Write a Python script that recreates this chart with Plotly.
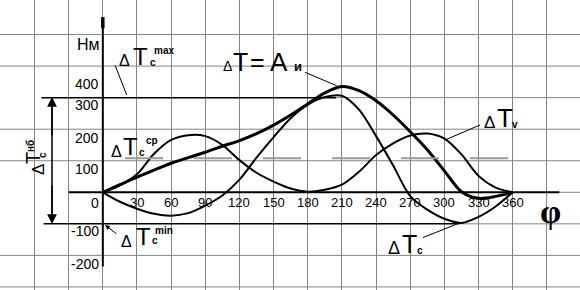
import plotly.graph_objects as go

# ---------------- data ----------------
phi = [0, 15, 30, 45, 60, 75, 90, 105, 120, 135, 150, 165, 180,
       195, 210, 225, 240, 255, 270, 285, 300, 315, 330, 345, 360]
dT = [0, 24, 48, 70, 92, 110, 127, 146, 164, 186, 213, 245, 280,
      315, 335, 322, 290, 245, 192, 135, 68, 2, -19, -13, 0]
dTv = [0, 22, 57, 122, 166, 181, 178, 150, 102, 62, 34, 12, 2,
       8, 24, 65, 118, 155, 180, 186, 170, 120, 52, 15, 0]
dTc = [0, -30, -52, -68, -74, -66, -42, -10, 40, 110, 175, 235, 278,
       302, 306, 262, 178, 85, -12, -55, -84, -97, -78, -45, 0]
tc_avg = 108
tc_max = 300
tc_min = -100
x_ticks = [30, 60, 90, 120, 150, 180, 210, 240, 270, 300, 330, 360]
y_tick_text = ["400", "300", "200", "100", "0", "-100", "-200"]
y_grid = [500, 400, 200, 100, -200, -300]

# ---------------- layout helpers ----------------
W, H = 580, 290
X_RANGE = [-90.3, 419.1]
Y_RANGE = [-309.7, 609.5]
FONT = "Liberation Sans, Arial, sans-serif"


def PX(x):
    return x / W


def PY(y):
    return 1 - y / H


fig = go.Figure()

fig.add_trace(go.Scatter(x=phi, y=dTv, mode="lines",
                         line=dict(color="black", width=2, shape="spline", smoothing=0.9)))
fig.add_trace(go.Scatter(x=phi, y=dTc, mode="lines",
                         line=dict(color="black", width=2, shape="spline", smoothing=0.9)))
fig.add_trace(go.Scatter(x=phi, y=dT, mode="lines",
                         line=dict(color="black", width=3, shape="spline", smoothing=0.9)))
fig.add_trace(go.Scatter(x=[19.5, 357.7], y=[tc_avg, tc_avg], mode="lines",
                         line=dict(color="#9a9a9a", width=2, dash="38px,31px")))

shapes = []
GRID = dict(color="#858585", width=1)
for v in y_grid:
    shapes.append(dict(type="line", xref="paper", yref="y", x0=0, x1=1, y0=v, y1=v,
                       line=GRID, layer="below"))
shapes.append(dict(type="line", xref="x", yref="y", x0=205, x1=X_RANGE[1], y0=tc_max, y1=tc_max,
                   line=GRID, layer="below"))
shapes.append(dict(type="line", xref="x", yref="y", x0=313, x1=X_RANGE[1], y0=tc_min, y1=tc_min,
                   line=GRID, layer="below"))
shapes.append(dict(type="line", xref="x", yref="y", x0=401, x1=X_RANGE[1], y0=0, y1=0,
                   line=GRID, layer="below"))
BL = dict(color="black", width=1.5)
shapes.append(dict(type="line", xref="x", yref="y", x0=-54, x1=205, y0=tc_max, y1=tc_max, line=BL))
shapes.append(dict(type="line", xref="x", yref="y", x0=-52, x1=313, y0=tc_min, y1=tc_min, line=BL))
shapes.append(dict(type="line", xref="x", yref="y", x0=-30, x1=401, y0=0, y1=0,
                   line=dict(color="black", width=2)))
shapes.append(dict(type="line", xref="x", yref="y", x0=0, x1=0, y0=-235, y1=555,
                   line=dict(color="black", width=2)))
shapes.append(dict(type="line", xref="x", yref="y", x0=0, x1=0, y0=520, y1=555,
                   line=dict(color="black", width=3.5)))
LL = dict(color="black", width=1)
for (x0, y0, x1, y1) in [(115, 65, 126.7, 95), (305, 72.3, 336.7, 85.7),
                         (480, 125, 445, 140), (423, 237.5, 457, 224)]:
    shapes.append(dict(type="line", xref="paper", yref="paper",
                       x0=PX(x0), y0=PY(y0), x1=PX(x1), y1=PY(y1), line=LL))
shapes.append(dict(type="line", xref="paper", yref="paper", x0=PX(52), x1=PX(52),
                   y0=PY(100), y1=PY(221), line=dict(color="black", width=1.5)))

ann = []
for t in x_ticks:
    ann.append(dict(x=t, y=-33, xref="x", yref="y", text=str(t),
                    showarrow=False, font=dict(family=FONT, size=13, color="black"),
                    xanchor="center", yanchor="middle"))
y_lab_px = [84, 105, 137.5, 169, 202.5, 231, 264]
for txt, ypx in zip(y_tick_text, y_lab_px):
    ann.append(dict(x=PX(100.5), y=PY(ypx), xref="paper", yref="paper", text=txt,
                    showarrow=False, font=dict(family=FONT, size=14, color="black"),
                    xanchor="right", yanchor="middle"))
ann.append(dict(x=PX(88), y=PY(45), xref="paper", yref="paper", text="Нм", showarrow=False,
                font=dict(family=FONT, size=16, color="black"), xanchor="center", yanchor="middle"))
ann.append(dict(x=PX(550), y=PY(211), xref="paper", yref="paper", text="<b>φ</b>", showarrow=False,
                font=dict(family="Liberation Serif, serif", size=34, color="black"),
                xanchor="center", yanchor="middle"))

pieces = [
    # ΔTc max
    (124.5, 61, "Δ", 16, False, 0), (140, 56.5, "T", 24, False, 0),
    (152.5, 62.5, "c", 10, True, 0), (164, 50.5, "max", 10, True, 0),
    # ΔTc min
    (126, 241, "Δ", 16, False, 0), (143.5, 236.5, "T", 24, False, 0),
    (154.5, 240.5, "c", 10, True, 0), (163.5, 230.5, "min", 10, True, 0),
    # ΔTc cp
    (116, 151, "Δ", 16, False, 0), (130.5, 146.5, "T", 24, False, 0),
    (141.5, 152.5, "c", 10, True, 0), (152, 140.5, "cp", 10, True, 0),
    # ΔT = Aи
    (227, 66.5, "Δ", 14, False, 0), (240.5, 62.5, "T", 25, False, 0),
    (257, 62.5, "=", 25, False, 0), (279, 62.5, "A", 26, False, 0),
    (298, 66.5, "и", 13, True, 0),
    # ΔTv
    (489, 122.5, "Δ", 17, False, 0), (505, 117.5, "T", 26, False, 0),
    (514.5, 124.5, "v", 10, True, 0),
    # ΔTc (bottom)
    (393.5, 248, "Δ", 18, False, 0), (409.5, 244, "T", 25, False, 0),
    (420, 250.5, "c", 10, True, 0),
    # ΔTc нб (vertical)
    (39, 170, "Δ", 17, False, -90), (32.5, 158.5, "T", 20, False, -90),
    (42, 155, "c", 10, True, -90), (30, 146, "нб", 10, True, -90),
]
for (x, y, txt, size, bold, ang) in pieces:
    ann.append(dict(x=PX(x), y=PY(y), xref="paper", yref="paper",
                    text=(f"<b>{txt}</b>" if bold else txt), showarrow=False,
                    textangle=ang, font=dict(family=FONT, size=size, color="black"),
                    xanchor="center", yanchor="middle"))

ARW = dict(showarrow=True, arrowhead=2, arrowsize=1.3, arrowwidth=1.5, arrowcolor="black",
           xref="paper", yref="paper", axref="pixel", ayref="pixel", text="")
ann.append(dict(x=PX(52), y=PY(97), ax=0, ay=40, **ARW))
ann.append(dict(x=PX(52), y=PY(224), ax=0, ay=-40, **ARW))
ann.append(dict(x=PX(105), y=PY(225), ax=13, ay=10, showarrow=True, arrowhead=2, arrowsize=1,
                arrowwidth=1, arrowcolor="black", xref="paper", yref="paper", text=""))

fig.update_layout(
    width=W, height=H, margin=dict(l=0, r=0, t=0, b=0),
    paper_bgcolor="white", plot_bgcolor="white", showlegend=False,
    xaxis=dict(range=X_RANGE, showticklabels=False, showgrid=True, tick0=0, dtick=30,
               gridcolor="#858585", gridwidth=1, zeroline=False, showline=False, ticks=""),
    yaxis=dict(range=Y_RANGE, showticklabels=False, showgrid=False, zeroline=False,
               showline=False, ticks=""),
    shapes=shapes, annotations=ann,
)

fig.write_html("out.html")
